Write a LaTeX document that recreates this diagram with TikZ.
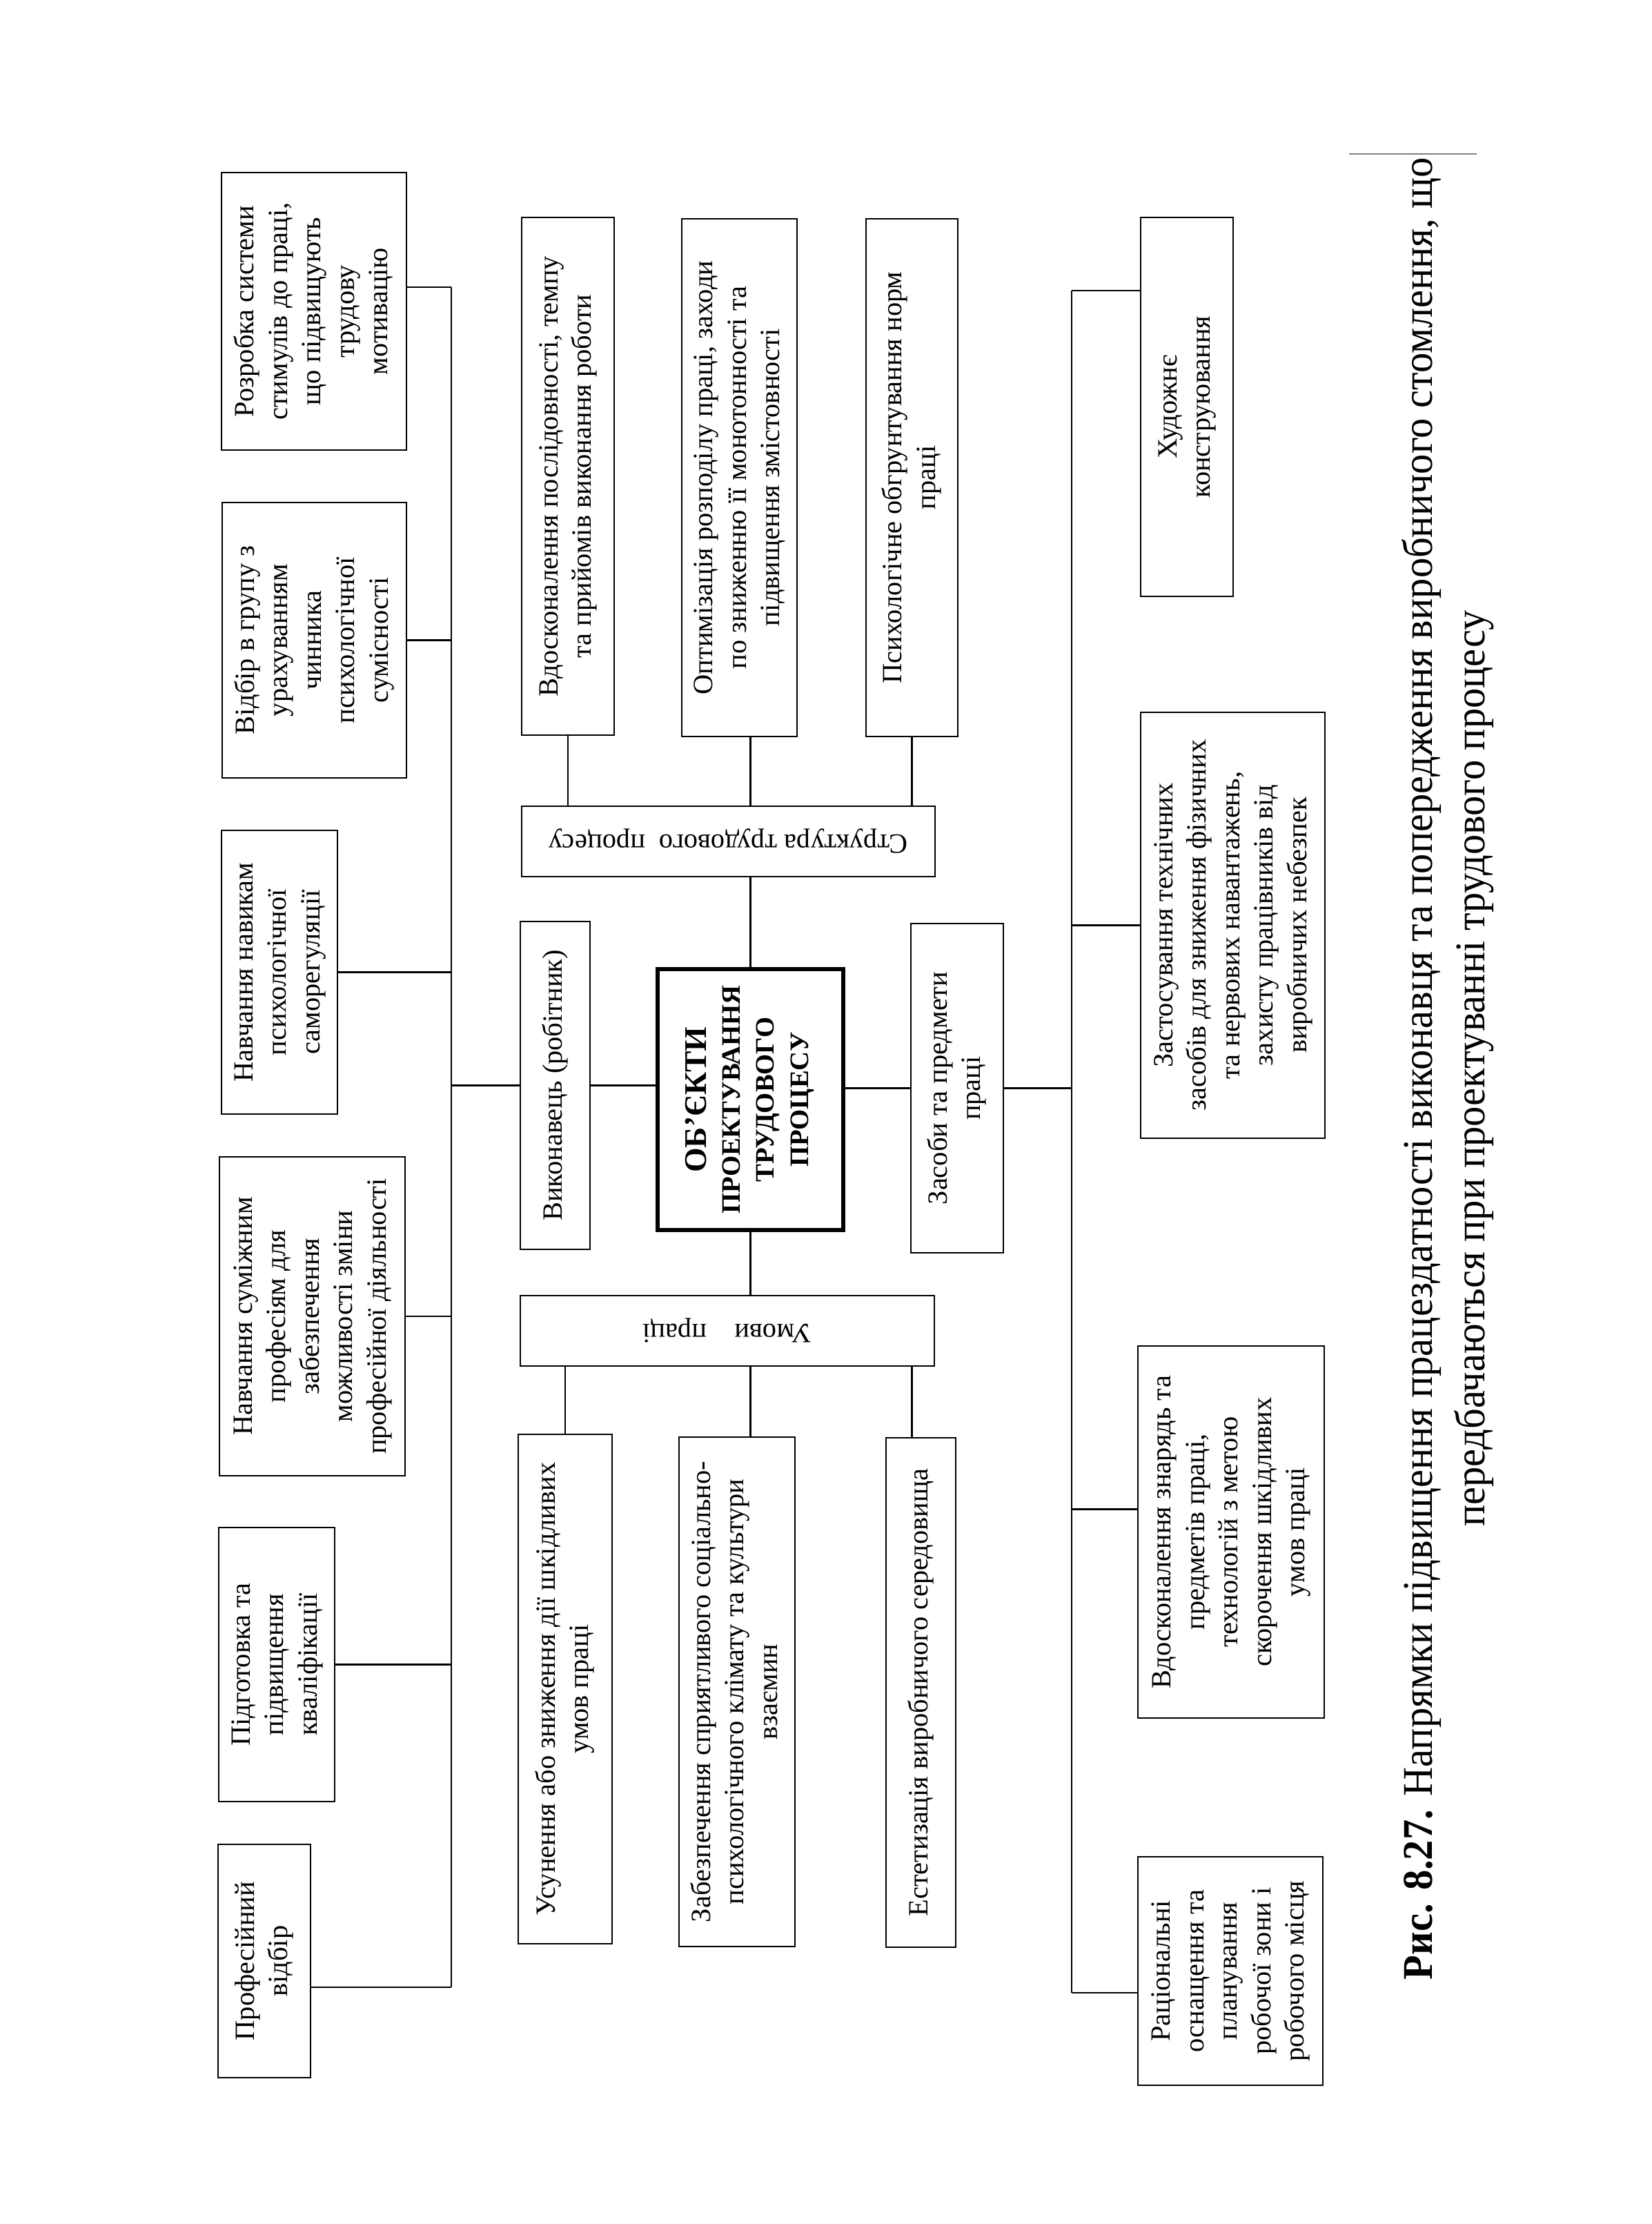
\documentclass[tikz,border=0pt]{standalone}
\usepackage{fontspec}
\setmainfont{Liberation Serif}
\newfontfamily\capfont[FakeStretch=0.95]{Liberation Serif}
\usepackage{graphicx}
\usetikzlibrary{calc}
\newcommand{\vt}[1]{\rotatebox{90}{\begin{tabular}{@{}c@{}}#1\end{tabular}}}
\newcommand{\ut}[1]{\rotatebox{180}{#1}}
\tikzset{
  box/.style={draw,line width=0.6pt,inner sep=0pt,align=center,font=\fontsize{11.5}{13.8}\selectfont},
  hub/.style={box,line width=1.8pt,font=\bfseries\fontsize{11}{14}\selectfont},
  link/.style={draw,line width=0.6pt},
  captext/.style={rotate=90,inner sep=0pt,align=center,font=\capfont\fontsize{17.5}{21.5}\selectfont}}

\begin{document}
\begin{tikzpicture}
  \useasboundingbox[fill=white] (0,0) rectangle (23.93,-32.22);
  % left column
  \node[box,minimum width=2.68cm,minimum height=4.02cm] (rozrob) at (4.55,-4.51) {\vt{Розробка системи\\стимулів до праці,\\що підвищують\\трудову\\мотивацію}};
  \node[box,minimum width=2.67cm,minimum height=3.99cm] (vidbir) at (4.555,-9.275) {\vt{Відбір в групу з\\урахуванням\\чинника\\психологічної\\сумісності}};
  \node[box,minimum width=1.68cm,minimum height=4.11cm] (navyky) at (4.05,-14.085) {\vt{Навчання навикам\\психологічної\\саморегуляції}};
  \node[box,minimum width=2.69cm,minimum height=4.62cm] (sumizh) at (4.525,-19.07) {\vt{Навчання суміжним\\професіям для\\забезпечення\\можливості зміни\\професійної діяльності}};
  \node[box,minimum width=1.68cm,minimum height=3.97cm] (pidhot) at (4.01,-24.115) {\vt{Підготовка та\\підвищення\\кваліфікації}};
  \node[box,minimum width=1.34cm,minimum height=3.38cm] (profvid) at (3.83,-28.41) {\vt{Професійний\\відбір}};
  % middle column
  \node[box,minimum width=1.34cm,minimum height=7.5cm] (vdoskon) at (8.23,-6.9) {\vt{Вдосконалення послідовності, темпу\\та прийомів виконання роботи}};
  \node[box,minimum width=1.67cm,minimum height=7.5cm] (optym) at (10.715,-6.92) {\vt{Оптимізація розподілу праці, заходи\\по зниженню її монотонності та\\підвищення змістовності}};
  \node[box,minimum width=1.33cm,minimum height=7.5cm] (psykhol) at (13.215,-6.92) {\vt{Психологічне обгрунтування норм\\праці}};
  \node[box,minimum width=5.99cm,minimum height=1.02cm] (struct) at (10.555,-12.19) {\ut{Структура трудового\enspace процесу}};
  \node[box,minimum width=1.01cm,minimum height=4.75cm] (vykon) at (8.045,-15.725) {\vt{Виконавець (робітник)}};
  \node[hub,minimum width=2.69cm,minimum height=3.78cm] (center) at (10.875,-15.93) {\vt{{\fontsize{13}{14}\selectfont ОБ’ЄКТИ}\\ПРОЕКТУВАННЯ\\ТРУДОВОГО\\ПРОЦЕСУ}};
  \node[box,minimum width=1.34cm,minimum height=4.77cm] (zasoby) at (13.87,-15.765) {\vt{Засоби та предмети\\праці}};
  \node[box,minimum width=6.0cm,minimum height=1.02cm] (umovy) at (10.54,-19.28) {\ut{Умови\quad праці}};
  \node[box,minimum width=1.36cm,minimum height=7.38cm] (usun) at (8.19,-24.47) {\vt{Усунення або зниження дії шкідливих\\умов праці}};
  \node[box,minimum width=1.68cm,minimum height=7.38cm] (zabezp) at (10.68,-24.51) {\vt{Забезпечення сприятливого соціально-\\психологічного клімату та культури\\взаємин}};
  \node[box,minimum width=1.01cm,minimum height=7.38cm] (estet) at (13.345,-24.52) {\vt{Естетизація виробничого середовища}};
  % right column
  \node[box,minimum width=1.34cm,minimum height=5.49cm] (khudozh) at (17.2,-5.895) {\vt{Художнє\\конструювання}};
  \node[box,minimum width=2.67cm,minimum height=6.17cm] (zastos) at (17.865,-13.405) {\vt{Застосування технічних\\засобів для зниження фізичних\\та нервових навантажень,\\захисту працівників від\\виробничих небезпек}};
  \node[box,minimum width=2.7cm,minimum height=5.39cm] (vdoskzn) at (17.84,-22.195) {\vt{Вдосконалення знарядь та\\предметів праці,\\технологій з метою\\скорочення шкідливих\\умов праці}};
  \node[box,minimum width=2.68cm,minimum height=3.31cm] (ratsion) at (17.83,-28.555) {\vt{Раціональні\\оснащення та\\планування\\робочої зони і\\робочого місця}};
  % caption
  \node[captext] (caption) at (20.98,-15.48) {\textbf{Рис. 8.27.} Напрямки підвищення працездатності виконавця та попередження виробничого стомлення, що\\передбачаються при проектуванні трудового процесу};
  \draw[line width=0.4pt,gray] (19.55,-2.23) -- (21.4,-2.23);

  % left trunk
  \coordinate (lt) at (6.54,-4.16);
  \coordinate (lb) at (6.54,-28.79);
  \draw[link] (lt) -- (lb);
  \draw[link] (rozrob.east |- lt) -- (lt);
  \draw[link] (vidbir.east) -- (vidbir.east -| lt);
  \draw[link] (navyky.east) -- (navyky.east -| lt);
  \draw[link] (sumizh.east) -- (sumizh.east -| lt);
  \draw[link] (pidhot.east) -- (pidhot.east -| lt);
  \draw[link] (profvid.east |- lb) -- (lb);
  \draw[link] (vykon.west) -- (vykon.west -| lt);
  % centre axis
  \draw[link] (vdoskon.south) -- (vdoskon.south |- struct.north);
  \draw[link] (optym.south -| center.north) -- (struct.north -| center.north);
  \draw[link] (psykhol.south) -- (psykhol.south |- struct.north);
  \draw[link] (struct.south -| center.north) -- (center.north);
  \draw[link] (vykon.east) -- (vykon.east -| center.west);
  \draw[link] (zasoby.west -| center.east) -- (zasoby.west);
  \draw[link] (center.south) -- (center.south |- umovy.north);
  \draw[link] (umovy.south -| usun.north) -- (usun.north);
  \draw[link] (umovy.south -| center.south) -- (zabezp.north -| center.south);
  \draw[link] (umovy.south -| psykhol.south) -- (estet.north -| psykhol.south);
  % right trunk
  \coordinate (rt) at (15.53,-4.21);
  \coordinate (rb) at (15.53,-28.87);
  \draw[link] (rt) -- (rb);
  \draw[link] (rt) -- (rt -| khudozh.west);
  \draw[link] (zastos.west) -- (zastos.west -| rt);
  \draw[link] (zasoby.east) -- (zasoby.east -| rt);
  \draw[link] ($(vdoskzn.west)+(0,0.33)$) -- ($(vdoskzn.west -| rt)+(0,0.33)$);
  \draw[link] (rb) -- (rb -| ratsion.west);
\end{tikzpicture}
\end{document}
